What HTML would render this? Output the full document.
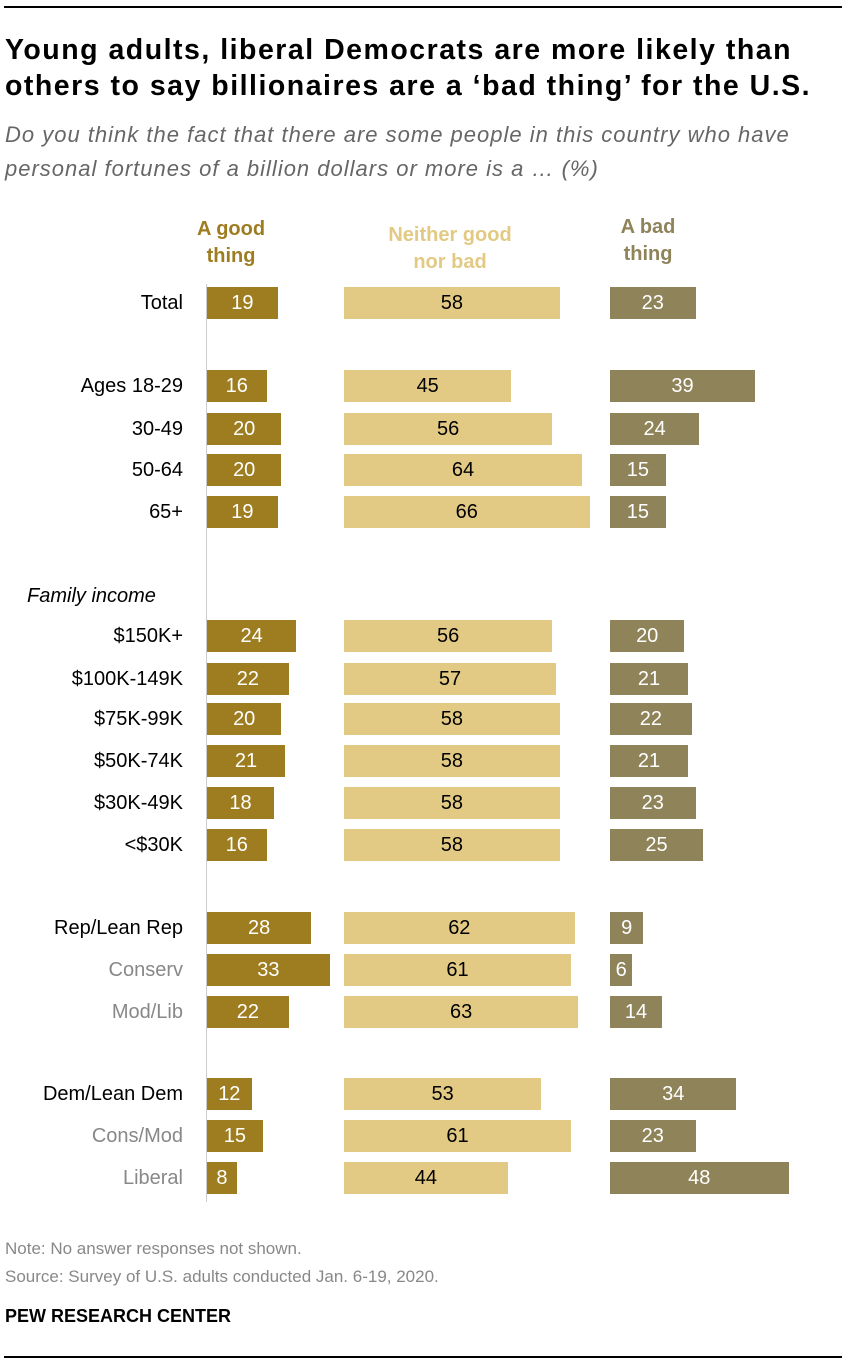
<!DOCTYPE html>
<html><head><meta charset="utf-8"><style>
body{margin:0;background:#fff;font-family:"Liberation Sans",Arial,sans-serif;}
#wrap{position:relative;width:846px;height:1366px;overflow:hidden;}
.abs{position:absolute;}
</style></head><body>
<div id="wrap">
<div class="abs" style="left:4px;top:6px;width:838px;height:2px;background:#000"></div>
<div class="abs" style="left:5px;top:32px;width:840px;white-space:nowrap;font-size:28.5px;letter-spacing:1.5px;font-weight:bold;line-height:36px;color:#000">Young adults, liberal Democrats are more likely than<br>others to say billionaires are a ‘bad thing’ for the U.S.</div>
<div class="abs" style="left:5px;top:118px;width:840px;white-space:nowrap;font-size:22px;letter-spacing:1px;font-style:italic;line-height:34px;color:#666">Do you think the fact that there are some people in this country who have<br>personal fortunes of a billion dollars or more is a … (%)</div>
<div class="abs" style="left:176px;top:216px;width:110px;text-align:center;font-size:20px;font-weight:bold;line-height:27px;color:#9e7d21">A good<br>thing</div>
<div class="abs" style="left:370px;top:222px;width:160px;text-align:center;font-size:20px;font-weight:bold;line-height:27px;color:#e2ca84">Neither good<br>nor bad</div>
<div class="abs" style="left:598px;top:214px;width:100px;text-align:center;font-size:20px;font-weight:bold;line-height:27px;color:#8f835a">A bad<br>thing</div>
<div class="abs" style="left:206px;top:284px;width:1px;height:918px;background:#ccc"></div>
<div class="abs" style="left:27px;top:585px;font-size:20px;font-style:italic;color:#000">Family income</div>
<div id="rows"></div>
<div class="abs" style="left:5px;top:1239px;font-size:17px;color:#888">Note: No answer responses not shown.</div>
<div class="abs" style="left:5px;top:1267px;font-size:17px;color:#888">Source: Survey of U.S. adults conducted Jan. 6-19, 2020.</div>
<div class="abs" style="left:5px;top:1306px;font-size:18px;font-weight:bold;color:#000">PEW RESEARCH CENTER</div>
<div class="abs" style="left:4px;top:1356px;width:838px;height:2px;background:#000"></div>
</div>
<script>
const categories=["Total","Ages 18-29","30-49","50-64","65+","$150K+","$100K-149K","$75K-99K","$50K-74K","$30K-49K","<$30K","Rep/Lean Rep","Conserv","Mod/Lib","Dem/Lean Dem","Cons/Mod","Liberal"];
const goodVals=[19,16,20,20,19,24,22,20,21,18,16,28,33,22,12,15,8];
const neitherVals=[58,45,56,64,66,56,57,58,58,58,58,62,61,63,53,61,44];
const badVals=[23,39,24,15,15,20,21,22,21,23,25,9,6,14,34,23,48];
const rowY=[303,386,429,470,512,636,679,719,761,803,845,928,970,1012,1094,1136,1178];
const grayLabels=[12,13,15,16];
const scale=3.72;
const x=v=>v*scale;
const root=document.getElementById('rows');
const series=[{vals:goodVals,x0:207,col:'#9e7d21',tc:'#fff',n:'good'},{vals:neitherVals,x0:344,col:'#e2ca84',tc:'#000',n:'neither'},{vals:badVals,x0:610,col:'#8f835a',tc:'#fff',n:'bad'}];
categories.forEach((c,i)=>{
 const y=rowY[i];
 const l=document.createElement('div');
 l.className='abs';
 
 
 l.style.cssText=`right:${846-183}px;top:${y-11}px;font-size:20px;white-space:nowrap;color:${grayLabels.includes(i)?'#888':'#000'}`;
 l.textContent=c;root.appendChild(l);
 series.forEach(s=>{
  const b=document.createElement('div');
  b.className='abs';
  
  
  const w=x(s.vals[i]);
  b.style.cssText=`left:${s.x0}px;top:${y-16}px;width:${w}px;height:32px;background:${s.col};color:${s.tc};font-size:20px;line-height:32px;text-align:center`;
  b.textContent=s.vals[i];root.appendChild(b);
 });
});
</script>
</body></html>
